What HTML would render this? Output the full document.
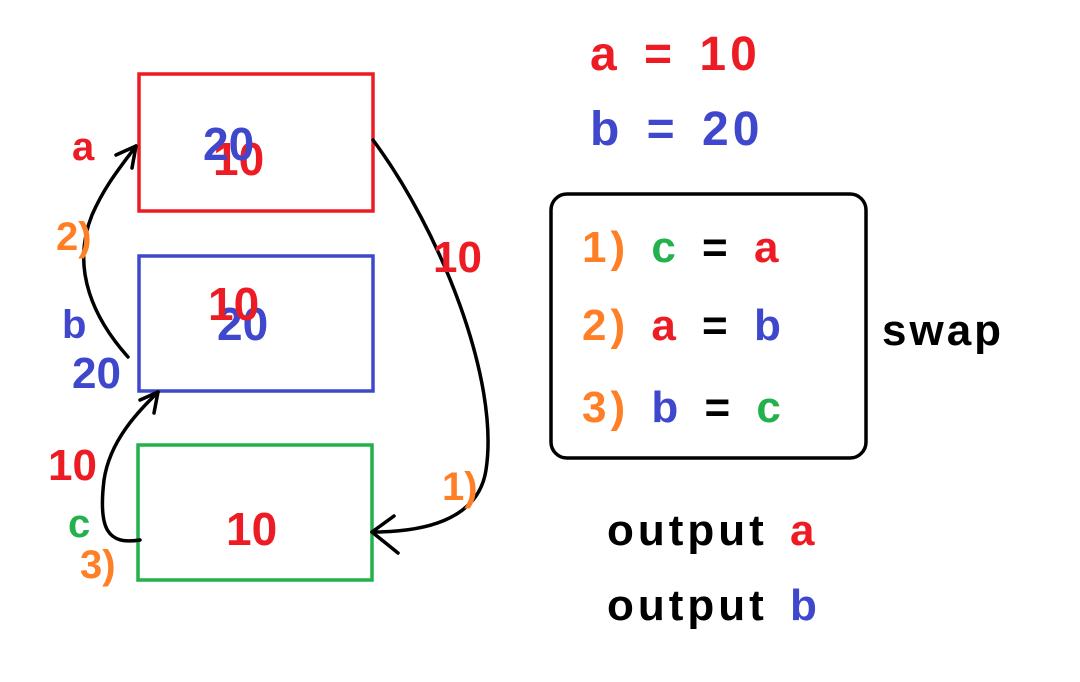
<!DOCTYPE html>
<html><head><meta charset="utf-8">
<style>
html,body{margin:0;padding:0;background:#fff;}
svg{display:block;}
text{font-family:"Liberation Sans",sans-serif;font-weight:bold;}
.w{letter-spacing:4px;word-spacing:6px;}
</style></head>
<body>
<svg width="1080" height="682" viewBox="0 0 1080 682">
  <rect x="0" y="0" width="1080" height="682" fill="#fff"/>
  <rect x="139" y="74" width="234" height="137" fill="none" stroke="#ed1c24" stroke-width="3.5"/>
  <rect x="139" y="256" width="234" height="135" fill="none" stroke="#3f48cc" stroke-width="3.5"/>
  <rect x="138" y="445" width="234" height="135" fill="none" stroke="#22b14c" stroke-width="3.5"/>

  <g fill="none" stroke="#000" stroke-width="3.5" stroke-linecap="round">
    <path d="M373,140 C440,230 500,380 486,470 C478,522 420,532 372,532"/>
    <path d="M372,532 L394,516 M372,532 L398,553"/>
    <path d="M128,357 C95,320 70,270 92,215 C105,185 122,165 136,146"/>
    <path d="M136,146 L116,155 M136,146 L132,168"/>
    <path d="M140,540 C108,545 98,530 104,480 C110,440 138,412 158,392"/>
    <path d="M158,392 L140,400 M158,392 L154,413"/>
  </g>

  <text x="72" y="160" font-size="40" fill="#ed1c24">a</text>
  <text x="56" y="250" font-size="40" fill="#ff7f27">2)</text>
  <text x="62" y="338" font-size="40" fill="#3f48cc">b</text>
  <text x="72" y="388" font-size="44" fill="#3f48cc">20</text>
  <text x="48" y="480" font-size="44" fill="#ed1c24">10</text>
  <text x="68" y="537" font-size="40" fill="#22b14c">c</text>
  <text x="80" y="578" font-size="40" fill="#ff7f27">3)</text>

  <text x="213" y="175" font-size="46" fill="#ed1c24">10</text>
  <text x="203" y="160" font-size="46" fill="#3f48cc">20</text>
  <text x="217" y="340" font-size="46" fill="#3f48cc">20</text>
  <text x="208" y="320" font-size="46" fill="#ed1c24">10</text>
  <text x="226" y="545" font-size="46" fill="#ed1c24">10</text>

  <text x="433" y="272" font-size="44" fill="#ed1c24">10</text>
  <text x="442" y="500" font-size="40" fill="#ff7f27">1)</text>

  <text class="w" x="590" y="70" font-size="48" fill="#ed1c24">a = 10</text>
  <text class="w" x="590" y="145" font-size="48" fill="#3f48cc">b = 20</text>

  <rect x="551" y="194" width="315" height="264" rx="16" ry="16" fill="none" stroke="#000" stroke-width="3.5"/>
  <g font-size="44">
    <text class="w" x="582" y="262"><tspan fill="#ff7f27">1)</tspan><tspan fill="#22b14c"> c</tspan><tspan fill="#000"> = </tspan><tspan fill="#ed1c24">a</tspan></text>
  </g>
  <g font-size="44">
    <text class="w" x="582" y="340"><tspan fill="#ff7f27">2)</tspan><tspan fill="#ed1c24"> a</tspan><tspan fill="#000"> = </tspan><tspan fill="#3f48cc">b</tspan></text>
  </g>
  <g font-size="44">
    <text class="w" x="582" y="422"><tspan fill="#ff7f27">3)</tspan><tspan fill="#3f48cc"> b</tspan><tspan fill="#000"> = </tspan><tspan fill="#22b14c">c</tspan></text>
  </g>
  <text x="882" y="345" font-size="44" fill="#000" letter-spacing="3">swap</text>

  <text class="w" x="607" y="545" font-size="44"><tspan fill="#000">output </tspan><tspan fill="#ed1c24">a</tspan></text>
  <text class="w" x="607" y="620" font-size="44"><tspan fill="#000">output </tspan><tspan fill="#3f48cc">b</tspan></text>
</svg>
</body></html>
